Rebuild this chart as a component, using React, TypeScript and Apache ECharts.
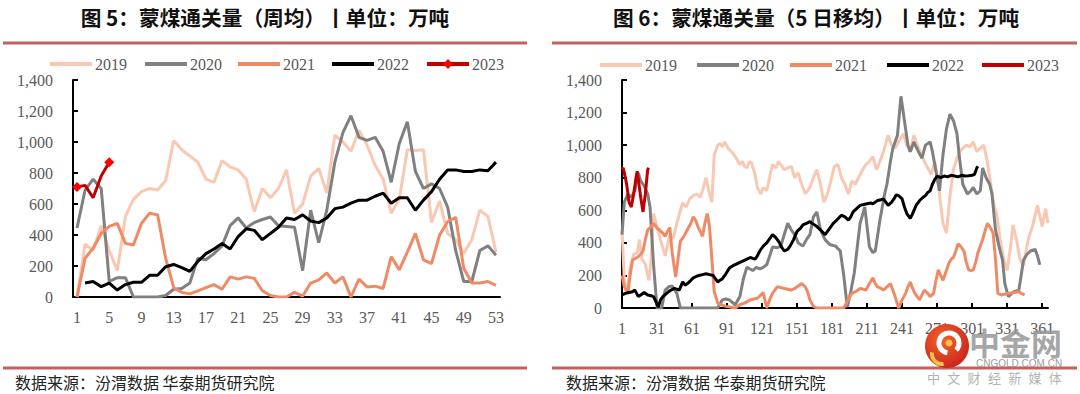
import React, { useEffect, useRef } from "react";
import * as echarts from "echarts";

// ---------- Left chart: weekly averages (weeks 1..53) ----------
const weeks: string[] = Array.from({ length: 53 }, (_, i) => String(i + 1));

const wk2019 = [0, 340, 300, 460, 300, 170, 520, 630, 680, 700, 690, 750, 1010, 950, 910, 870, 760, 740, 880, 840, 820, 760, 550, 700, 640, 700, 820, 540, 600, 780, 830, 670, 1045, 1000, 940, 1075, 980, 850, 760, 540, 630, 950, 945, 950, 480, 620, 410, 370, 280, 370, 560, 520, 290];
const wk2020 = [445, 690, 760, 700, 100, 125, 125, 0, 0, 0, 0, 10, 50, 55, 90, 250, 240, 280, 330, 460, 510, 445, 480, 500, 516, 460, 455, 450, 170, 560, 350, 560, 870, 1060, 1170, 1030, 1010, 1030, 940, 740, 990, 1130, 810, 700, 730, 700, 580, 300, 100, 100, 300, 330, 270];
const wk2021 = [0, 250, 315, 410, 455, 475, 346, 335, 475, 540, 530, 250, 60, 30, 20, 40, 60, 80, 50, 130, 115, 130, 120, 40, 10, 0, 0, 30, 5, 90, 110, 155, 90, 130, 0, 115, 65, 70, 55, 260, 175, 290, 410, 240, 215, 400, 485, 515, 185, 90, 90, 100, 75];
const wk2022 = [null, 90, 100, 67, 90, 45, 80, 95, 95, 140, 140, 195, 210, 190, 165, 230, 280, 310, 345, 310, 390, 440, 430, 370, 410, 450, 510, 500, 530, 490, 480, 510, 570, 580, 605, 625, 625, 650, 670, 605, 640, 640, 560, 625, 680, 760, 820, 820, 810, 810, 820, 815, 870];
const wk2023 = [710, 720, 640, 780, 870];

// ---------- Right chart: 5-day moving average, [day, value] ----------
const day2019: [number, number][] = [
  [1, 480], [3, 160], [5, 90], [8, 250], [11, 330], [14, 340], [16, 420], [18, 300], [21, 270], [24, 170], [26, 300], [28, 580], [31, 500], [34, 420], [38, 320], [42, 450], [45, 430], [48, 520], [51, 600], [53, 645], [56, 620], [59, 670], [62, 690], [65, 700], [68, 680], [70, 720], [73, 800], [76, 700], [78, 650], [80, 940], [83, 1000], [85, 1010], [87, 990], [89, 1020], [92, 980], [95, 958], [97, 940], [99, 920], [102, 880], [104, 900], [106, 870], [108, 860], [110, 900], [112, 890], [115, 820], [117, 740], [120, 700], [122, 740], [125, 720], [128, 820], [130, 880], [133, 860], [135, 900], [137, 880], [140, 850], [143, 860], [146, 870], [149, 800], [152, 830], [155, 760], [158, 700], [162, 740], [165, 800], [168, 850], [171, 760], [174, 650], [177, 700], [180, 780], [183, 870], [186, 880], [189, 800], [192, 760], [195, 700], [198, 780], [201, 760], [205, 820], [208, 860], [210, 880], [213, 900], [216, 930], [219, 850], [222, 900], [225, 960], [229, 1060], [232, 1000], [235, 980], [238, 1020], [242, 1070], [245, 1000], [248, 960], [251, 1060], [254, 1000], [257, 950], [260, 900], [263, 860], [266, 820], [269, 900], [272, 760], [274, 640], [276, 520], [279, 460], [282, 690], [285, 850], [288, 920], [290, 960], [293, 980], [296, 1000], [299, 990], [302, 1020], [305, 960], [308, 980], [311, 1000], [314, 900], [317, 760], [320, 620], [322, 580], [325, 420], [328, 300], [331, 230], [334, 380], [336, 510], [339, 420], [342, 300], [345, 260], [349, 420], [353, 510], [357, 630], [361, 500], [364, 610], [366, 520]
];
const day2020: [number, number][] = [
  [1, 450], [3, 650], [6, 700], [9, 680], [12, 720], [15, 830], [17, 780], [20, 750], [23, 700], [25, 620], [28, 270], [31, 0], [35, 0], [38, 110], [41, 130], [44, 135], [48, 90], [51, 0], [60, 0], [70, 0], [83, 0], [87, 50], [90, 55], [93, 50], [98, 20], [102, 70], [105, 180], [108, 250], [113, 230], [116, 250], [119, 240], [122, 250], [125, 265], [128, 330], [130, 375], [134, 370], [137, 380], [140, 450], [143, 520], [146, 480], [149, 450], [152, 400], [156, 380], [159, 420], [162, 450], [165, 560], [168, 590], [171, 480], [175, 420], [179, 390], [184, 380], [188, 350], [191, 200], [194, 5], [197, 100], [200, 215], [203, 400], [205, 520], [209, 620], [213, 375], [216, 340], [218, 350], [222, 540], [226, 700], [228, 760], [231, 900], [233, 980], [237, 1060], [240, 1300], [242, 1200], [244, 1100], [246, 1000], [248, 960], [251, 1020], [253, 990], [255, 960], [258, 920], [261, 1000], [265, 1020], [267, 960], [269, 880], [271, 800], [273, 720], [276, 940], [279, 1100], [282, 1190], [285, 1150], [288, 1070], [290, 930], [293, 760], [297, 700], [300, 720], [302, 740], [305, 700], [308, 720], [310, 860], [313, 800], [316, 760], [318, 700], [321, 480], [324, 380], [327, 295], [329, 150], [332, 70], [335, 90], [337, 100], [341, 110], [343, 200], [345, 295], [348, 330], [351, 350], [355, 360], [357, 320], [359, 265]
];
const day2021: [number, number][] = [
  [1, 200], [3, 130], [6, 90], [8, 200], [10, 295], [14, 310], [17, 330], [19, 350], [21, 420], [23, 480], [26, 500], [28, 520], [31, 490], [33, 480], [36, 460], [38, 440], [40, 470], [42, 495], [44, 340], [47, 190], [49, 300], [51, 410], [54, 440], [57, 480], [60, 520], [62, 560], [64, 540], [66, 500], [68, 470], [70, 440], [72, 520], [74, 580], [76, 500], [78, 300], [80, 100], [83, 30], [86, 20], [90, 10], [95, 5], [98, 0], [102, 20], [106, 30], [111, 50], [114, 55], [117, 60], [120, 80], [122, 95], [125, 0], [128, 60], [130, 90], [134, 130], [137, 125], [140, 120], [143, 115], [146, 110], [149, 120], [151, 130], [155, 150], [158, 130], [160, 100], [162, 50], [165, 10], [168, 0], [175, 0], [183, 0], [191, 0], [194, 40], [198, 90], [201, 100], [205, 120], [208, 115], [210, 110], [213, 150], [216, 185], [218, 150], [220, 130], [223, 120], [225, 110], [228, 130], [231, 150], [233, 110], [235, 70], [238, 0], [241, 50], [244, 90], [246, 130], [248, 160], [250, 120], [252, 90], [254, 70], [256, 50], [258, 80], [260, 110], [263, 90], [265, 70], [268, 90], [270, 170], [272, 235], [274, 200], [276, 170], [279, 230], [281, 275], [283, 300], [285, 310], [287, 350], [289, 395], [291, 380], [294, 350], [296, 280], [298, 235], [300, 230], [302, 235], [304, 280], [306, 340], [308, 380], [310, 420], [312, 470], [314, 520], [316, 500], [319, 460], [321, 300], [323, 90], [326, 80], [329, 85], [333, 90], [337, 95], [341, 100], [343, 90], [346, 80]
];
const day2022: [number, number][] = [
  [1, 80], [4, 90], [7, 95], [10, 100], [12, 110], [15, 70], [18, 85], [20, 95], [23, 80], [26, 75], [28, 70], [30, 40], [32, 5], [34, 50], [36, 70], [40, 95], [43, 110], [46, 120], [50, 110], [53, 160], [55, 140], [57, 150], [60, 170], [62, 185], [65, 195], [67, 200], [70, 205], [73, 210], [76, 205], [79, 200], [81, 180], [83, 160], [85, 170], [87, 180], [90, 210], [93, 245], [96, 260], [99, 270], [102, 280], [105, 290], [108, 300], [111, 310], [113, 305], [115, 300], [117, 320], [119, 350], [122, 380], [125, 400], [128, 430], [130, 450], [133, 430], [136, 400], [138, 370], [140, 350], [143, 360], [145, 380], [148, 420], [151, 470], [154, 490], [156, 510], [159, 520], [162, 530], [165, 515], [168, 500], [171, 480], [175, 450], [178, 480], [182, 520], [185, 540], [189, 570], [192, 560], [195, 540], [197, 560], [199, 590], [202, 610], [205, 630], [208, 635], [211, 640], [214, 645], [216, 640], [218, 650], [220, 660], [223, 665], [225, 670], [227, 650], [229, 630], [232, 650], [234, 670], [236, 695], [238, 690], [241, 670], [243, 620], [245, 580], [248, 550], [250, 580], [253, 630], [256, 660], [259, 680], [261, 690], [263, 710], [265, 720], [267, 760], [269, 790], [271, 810], [274, 800], [277, 810], [280, 805], [283, 815], [286, 810], [289, 805], [292, 815], [295, 810], [298, 812], [301, 815], [303, 820], [305, 860], [306, 870]
];
const day2023: [number, number][] = [
  [1, 850], [2, 860], [3, 830], [5, 760], [7, 650], [9, 620], [11, 700], [13, 800], [14, 840], [15, 790], [17, 680], [19, 590], [21, 700], [23, 850], [24, 860]
];
const dayTicks = [0, 30, 60, 90, 120, 150, 180, 210, 240, 270, 300, 330, 360];

const YEARS = ["2019", "2020", "2021", "2022", "2023"];
const TITLE_L = "图 5：蒙煤通关量（周均）丨单位：万吨";
const TITLE_R = "图 6：蒙煤通关量（5 日移均）丨单位：万吨";
const SOURCE = "数据来源：汾渭数据 华泰期货研究院";

const C19 = "#f9c8b2";
const C20 = "#808080";
const C21 = "#f08a66";
const C22 = "#000000";
const C23 = "#c00000";
const COLORS = [C19, C20, C21, C22, C23];
const RED_RULE = "#c4605e";
const LABEL = "#595959";
const SERIF = "Liberation Serif";
const CJK = "Noto Sans CJK SC";

const fmt = (v: number) => v.toLocaleString("en-US");

function yAxisCfg() {
  return {
    type: "value",
    min: 0,
    max: 1400,
    interval: 200,
    axisLine: { show: true, lineStyle: { color: "#000", width: 2 } },
    axisTick: { show: true, inside: true, length: 5, lineStyle: { color: "#000", width: 2 } },
    axisLabel: { formatter: fmt, color: LABEL, fontFamily: SERIF, fontSize: 16, margin: 20 },
    splitLine: { show: false },
  };
}

// hand-drawn legend (line icons, diamond for weekly 2023)
function legendElements(xs: number[], y: number, diamondLast: boolean) {
  const els: any[] = [];
  YEARS.forEach((name, i) => {
    const x = xs[i];
    els.push({ type: "line", shape: { x1: x, y1: y, x2: x + 42, y2: y }, style: { stroke: COLORS[i], lineWidth: 4 } });
    if (diamondLast && i === 4) {
      const cx = x + 21;
      els.push({ type: "polygon", shape: { points: [[cx, y - 5], [cx + 5, y], [cx, y + 5], [cx - 5, y]] }, style: { fill: "#ff0000" } });
    }
    els.push({ type: "text", x: x + 45, y, style: { text: name, fill: LABEL, font: `16px "${SERIF}"`, textAlign: "left", textVerticalAlign: "middle" } });
  });
  return els;
}

function frame(titleText: string, titleX: number, ruleX0: number, ruleX1: number, srcX: number) {
  return [
    { type: "text", x: titleX, y: 17, style: { text: titleText, fill: "#111", font: `bold 20.7px "${CJK}"`, textAlign: "center", textVerticalAlign: "middle" } },
    { type: "line", shape: { x1: ruleX0, y1: 43, x2: ruleX1, y2: 43 }, style: { stroke: RED_RULE, lineWidth: 3 } },
    { type: "line", shape: { x1: ruleX0, y1: 368, x2: ruleX1, y2: 368 }, style: { stroke: RED_RULE, lineWidth: 3 } },
    { type: "text", x: srcX, y: 382, style: { text: SOURCE, fill: "#222", font: `16px "${CJK}"`, textAlign: "left", textVerticalAlign: "middle" } },
  ];
}

function lineSeries(name: string, data: any[], color: string, extra: any = {}) {
  return {
    name,
    type: "line",
    data,
    symbol: "none",
    showSymbol: false,
    lineStyle: { color, width: 3 },
    itemStyle: { color },
    ...extra,
  };
}

function leftOption() {
  return {
    animation: false,
    backgroundColor: "#fff",
    grid: { left: 73, top: 80, width: 427, height: 217 },
    xAxis: {
      type: "category",
      data: weeks,
      boundaryGap: true,
      axisLine: { lineStyle: { color: "#000", width: 2 } },
      axisTick: { inside: true, interval: 3, length: 4, lineStyle: { color: "#000", width: 2 } },
      axisLabel: { interval: 3, color: LABEL, fontFamily: SERIF, fontSize: 16, margin: 12 },
    },
    yAxis: yAxisCfg(),
    series: [
      lineSeries("2019", wk2019, C19),
      lineSeries("2020", wk2020, C20),
      lineSeries("2021", wk2021, C21),
      lineSeries("2022", wk2022, C22),
      lineSeries("2023", wk2023, C23, {
        symbol: "diamond",
        showSymbol: true,
        symbolSize: 10,
        itemStyle: { color: "#ff0000" },
      }),
    ],
    graphic: { elements: [...frame(TITLE_L, 265, 3, 527, 15), ...legendElements([50, 145, 238, 332, 427], 64, true)] },
  };
}

function shiftDays(arr: [number, number][]) {
  return arr.map(([d, v]) => [d - 1, v]);
}

function logoElements() {
  const cx = 407, cy = 346;
  const mk = (ch: string, i: number) => ({
    type: "text", x: 393.5 + i * 20.3, y: 377, z: 100,
    style: { text: ch, fill: "#b3b3b3", font: `13px "${CJK}"`, textAlign: "center", textVerticalAlign: "middle" },
  });
  return [
    {
      type: "circle", z: 100, shape: { cx, cy, r: 22 },
      style: { fill: new echarts.graphic.RadialGradient(0.4, 0.35, 0.75, [{ offset: 0, color: "#f2642c" }, { offset: 1, color: "#c81d1a" }]) },
    },
    { type: "arc", z: 101, shape: { cx: cx + 2, cy: cy - 3, r: 10, startAngle: Math.PI * 0.55, endAngle: Math.PI * 2.25, clockwise: true }, style: { stroke: "#fff", lineWidth: 5, fill: null } },
    { type: "arc", z: 101, shape: { cx: cx - 5, cy: cy + 8, r: 10, startAngle: Math.PI * 0.45, endAngle: Math.PI * 1.05, clockwise: true }, style: { stroke: "#f6c34a", lineWidth: 4, fill: null } },
    { type: "circle", z: 102, shape: { cx: cx + 2, cy: cy - 3, r: 3.5 }, style: { fill: "#f6c34a" } },
    { type: "text", x: 429, y: 341, z: 100, style: { text: "中金网", fill: "rgba(150,150,150,0.85)", font: `bold 31px "${CJK}"`, textAlign: "left", textVerticalAlign: "middle" } },
    { type: "text", x: 436, y: 363, z: 100, style: { text: "CNGOLD.COM.CN", fill: "#9c9c9c", font: `10px "Liberation Sans"`, textAlign: "left", textVerticalAlign: "middle" } },
    ...["中", "文", "财", "经", "新", "媒", "体"].map(mk),
  ];
}

function rightOption() {
  return {
    animation: false,
    backgroundColor: "#fff",
    grid: { left: 82, top: 80, width: 426, height: 228 },
    xAxis: {
      type: "value",
      min: 0,
      max: 365,
      interval: 30,
      axisLine: { show: true, onZero: false, lineStyle: { color: "#000", width: 2 } },
      axisTick: { show: true, inside: true, length: 5, customValues: dayTicks, lineStyle: { color: "#000", width: 2 } },
      axisLabel: { customValues: dayTicks, formatter: (v: number) => String(v + 1), color: LABEL, fontFamily: SERIF, fontSize: 16, margin: 12 },
      splitLine: { show: false },
    },
    yAxis: yAxisCfg(),
    series: [
      lineSeries("2019", shiftDays(day2019), C19),
      lineSeries("2020", shiftDays(day2020), C20),
      lineSeries("2021", shiftDays(day2021), C21),
      lineSeries("2022", shiftDays(day2022), C22),
      lineSeries("2023", shiftDays(day2023), C23),
    ],
    graphic: {
      elements: [
        ...frame(TITLE_R, 276, 12, 537, 26),
        ...legendElements([60, 157, 250, 347, 442], 65, false),
        ...logoElements(),
      ],
    },
  };
}

export default function App() {
  const leftRef = useRef<HTMLDivElement>(null);
  const rightRef = useRef<HTMLDivElement>(null);
  useEffect(() => {
    const l = echarts.init(leftRef.current!, undefined, { renderer: "svg" });
    const r = echarts.init(rightRef.current!, undefined, { renderer: "svg" });
    l.setOption(leftOption() as any);
    r.setOption(rightOption() as any);
    return () => {
      l.dispose();
      r.dispose();
    };
  }, []);
  return (
    <div style={{ position: "fixed", left: 0, top: 0, width: 1080, height: 394, background: "#fff" }}>
      <div ref={leftRef} style={{ position: "absolute", left: 0, top: 0, width: 540, height: 394 }} />
      <div ref={rightRef} style={{ position: "absolute", left: 540, top: 0, width: 540, height: 394 }} />
    </div>
  );
}
